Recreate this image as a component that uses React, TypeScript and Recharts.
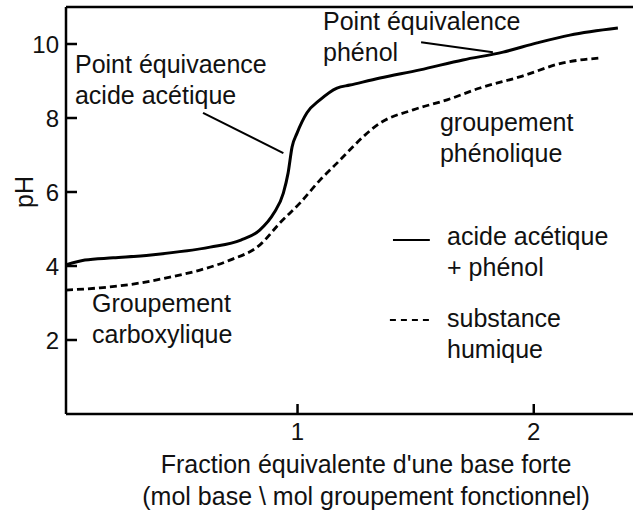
import React from 'react'
import { LineChart, Line, XAxis, YAxis, ReferenceLine, ReferenceDot } from 'recharts'

// titration curves (x = equivalent fraction, y = pH)
const acideX = [0.02, 0.1, 0.22, 0.38, 0.63, 0.76, 0.84, 0.9, 0.94, 0.96, 0.977, 0.998, 1.04, 1.095, 1.167, 1.222, 1.349, 1.518, 1.7, 1.87, 2.014, 2.153, 2.356]
const acideY = [4.03, 4.16, 4.22, 4.3, 4.51, 4.7, 4.97, 5.43, 5.97, 6.51, 7.22, 7.59, 8.14, 8.49, 8.81, 8.89, 9.08, 9.3, 9.57, 9.78, 10.03, 10.24, 10.43]

const humiqueX = [0.02, 0.164, 0.333, 0.46, 0.587, 0.714, 0.841, 0.925, 1.01, 1.095, 1.167, 1.222, 1.277, 1.349, 1.489, 1.633, 1.772, 1.94, 2.124, 2.28]
const humiqueY = [3.35, 3.41, 3.54, 3.7, 3.89, 4.16, 4.57, 5.16, 5.7, 6.32, 6.78, 7.14, 7.49, 7.86, 8.22, 8.49, 8.81, 9.11, 9.49, 9.62]

const xTicks = [1, 2]
const yTicks = [2, 4, 6, 8, 10]

const acide = acideX.map((x, i) => ({ x, y: acideY[i] }))
const humique = humiqueX.map((x, i) => ({ x, y: humiqueY[i] }))

const FONT = 'Liberation Sans, Arial, sans-serif'
const INK = '#111'

function XTick(p: any) {
  return (
    <g>
      <line x1={p.x} y1={p.y} x2={p.x} y2={p.y - 10} stroke="#000" strokeWidth={2.5} />
      <text x={p.x} y={p.y + 26} textAnchor="middle" fontFamily={FONT} fontSize={24} fill={INK}>
        {p.payload.value}
      </text>
    </g>
  )
}

function YTick(p: any) {
  return (
    <g>
      <line x1={p.x} y1={p.y} x2={p.x + 11} y2={p.y} stroke="#000" strokeWidth={2.5} />
      <text x={p.x - 7} y={p.y + 8.5} textAnchor="end" fontFamily={FONT} fontSize={24} fill={INK}>
        {p.payload.value}
      </text>
    </g>
  )
}

// multi-line text placed at a data point (left aligned, baseline at the point)
function note(key: string, x: number, y: number, lines: string[]) {
  const content = (props: any) => {
    const vb = props.viewBox || {}
    return (
      <text x={vb.x} y={vb.y} fontFamily={FONT} fontSize={25} fill={INK}>
        {lines.map((l, i) => (
          <tspan key={i} x={vb.x} dy={i === 0 ? 0 : 31}>
            {l}
          </tspan>
        ))}
      </text>
    )
  }
  return <ReferenceDot key={key} x={x} y={y} r={0} fill="none" stroke="none" label={content} />
}

export default function App() {
  return (
    <div style={{ position: 'absolute', left: 0, top: 0, background: '#fff' }}>
      <LineChart width={633} height={513} margin={{ top: 7, right: 0, bottom: 0, left: 0 }}>
        <XAxis
          type="number"
          dataKey="x"
          domain={[0.02, 2.42]}
          ticks={xTicks}
          allowDataOverflow
          height={99}
          tickSize={0}
          tickMargin={0}
          tickLine={false}
          tick={XTick}
          axisLine={{ stroke: '#000', strokeWidth: 2.5 }}
          label={(props: any) => {
            const vb = props.viewBox || {}
            const cx = vb.x + 300
            return (
              <text x={cx} y={vb.y + 59} textAnchor="middle" fontFamily={FONT} fontSize={25} fill={INK}>
                <tspan x={cx}>Fraction équivalente d'une base forte</tspan>
                <tspan x={cx} dy={32}>(mol base \ mol groupement fonctionnel)</tspan>
              </text>
            )
          }}
        />
        <YAxis
          type="number"
          dataKey="y"
          domain={[0, 11]}
          ticks={yTicks}
          allowDataOverflow
          width={66}
          tickSize={0}
          tickMargin={0}
          tickLine={false}
          tick={YTick}
          axisLine={{ stroke: '#000', strokeWidth: 2.5 }}
          label={() => (
            <text
              x={24}
              y={192}
              transform="rotate(-90, 24, 192)"
              textAnchor="middle"
              dominantBaseline="central"
              fontFamily={FONT}
              fontSize={25}
              fill={INK}
            >
              pH
            </text>
          )}
        />
        <ReferenceLine y={11} stroke="#000" strokeWidth={2.5} />

        <Line data={acide} dataKey="y" type="monotone" stroke="#000" strokeWidth={3} dot={false} isAnimationActive={false} />
        <Line
          data={humique}
          dataKey="y"
          type="monotone"
          stroke="#000"
          strokeWidth={2.8}
          strokeDasharray="7 4"
          dot={false}
          isAnimationActive={false}
        />

        {/* leader lines */}
        <ReferenceLine segment={[{ x: 0.6, y: 8.14 }, { x: 0.94, y: 7.05 }]} stroke="#000" strokeWidth={2} />
        <ReferenceLine segment={[{ x: 1.523, y: 10.05 }, { x: 1.827, y: 9.78 }]} stroke="#000" strokeWidth={2} />

        {/* legend samples */}
        <ReferenceLine segment={[{ x: 1.404, y: 4.7 }, { x: 1.56, y: 4.7 }]} stroke="#000" strokeWidth={2} />
        <ReferenceLine
          segment={[{ x: 1.391, y: 2.54 }, { x: 1.573, y: 2.54 }]}
          stroke="#000"
          strokeWidth={2}
          strokeDasharray="6 5"
        />

        {note('n1', 0.058, 9.22, ['Point équivaence', 'acide acétique'])}
        {note('n2', 1.108, 10.38, ['Point équivalence', 'phénol'])}
        {note('n3', 1.603, 7.65, ['groupement', 'phénolique'])}
        {note('n4', 0.13, 2.76, ['Groupement', 'carboxylique'])}
        {note('n5', 1.633, 4.57, ['acide acétique', '+ phénol'])}
        {note('n6', 1.633, 2.35, ['substance', 'humique'])}
      </LineChart>
    </div>
  )
}
